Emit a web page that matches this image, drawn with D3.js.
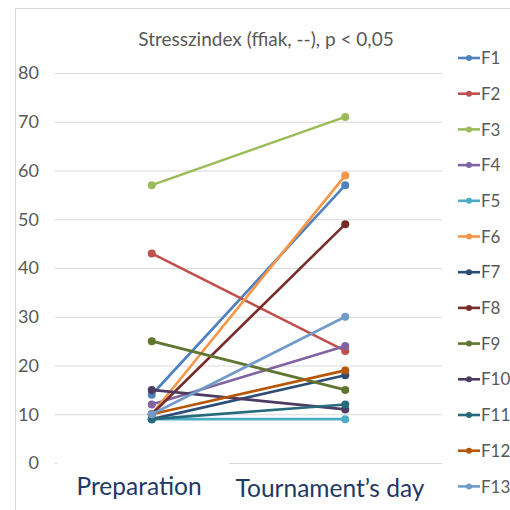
<!DOCTYPE html>
<html>
<head>
<meta charset="utf-8">
<script src="https://cdn.jsdelivr.net/npm/d3@7"></script>
<style>
  html, body { margin: 0; padding: 0; background: #fff; }
  svg { display: block; font-family: Lato, "Open Sans", sans-serif; }
</style>
</head>
<body>
<svg id="chart" width="510" height="510"></svg>
<script>
// Stress index per subject, before and on the tournament day
const categories = ["Preparation", "Tournament’s day"];
const seriesNames = ["F1", "F2", "F3", "F4", "F5", "F6", "F7", "F8", "F9", "F10", "F11", "F12", "F13"];
const preparation = [14, 43, 57, 12, 9, 10, 9, 10, 25, 15, 9, 10, 10];
const tournamentDay = [57, 23, 71, 24, 9, 59, 18, 49, 15, 11, 12, 19, 30];
const seriesColors = ["#4F81BD", "#C0504D", "#9BBB59", "#8064A2", "#4BACC6", "#F79646",
                      "#2C4D75", "#772C2A", "#5F7530", "#4D3B62", "#276A7C", "#B65708", "#729ACA"];
const yTicks = [0, 10, 20, 30, 40, 50, 60, 70, 80];
const title = "Stresszindex (ffiak, --), p < 0,05";

const svg = d3.select("#chart");

// outer chart frame
svg.append("rect")
  .attr("x", 15.5).attr("y", 8.5)
  .attr("width", 520).attr("height", 520)
  .attr("fill", "none").attr("stroke", "#d9d9d9").attr("stroke-width", 1);

const plot = { left: 55, right: 442, top: 73, bottom: 463 };

const x = d3.scalePoint().domain(categories).range([plot.left, plot.right]).padding(0.5);
const y = d3.scaleLinear().domain([0, 80]).range([plot.bottom, plot.top]);

// horizontal gridlines + value labels
const yAxis = d3.axisLeft(y).tickValues(yTicks).tickSize(-(plot.right - plot.left)).tickPadding(16);
const gy = svg.append("g").attr("transform", `translate(${plot.left},0)`).call(yAxis);
gy.select(".domain").remove();
gy.selectAll(".tick line").attr("stroke", "#d9d9d9").attr("stroke-width", 1.2);
gy.selectAll(".tick text")
  .attr("fill", "#595959")
  .style("font-size", "18px")
  .style("font-family", "Lato, sans-serif");

// title
svg.append("text")
  .attr("x", 266).attr("y", 46)
  .attr("text-anchor", "middle")
  .attr("fill", "#595959")
  .style("font-size", "19px")
  .text(title);

// one line per subject
const series = seriesNames.map((name, i) => ({
  name,
  color: seriesColors[i],
  values: [
    { cat: categories[0], v: preparation[i] },
    { cat: categories[1], v: tournamentDay[i] }
  ]
}));

const line = d3.line().x(d => x(d.cat)).y(d => y(d.v));

const gSeries = svg.append("g").selectAll("g").data(series).join("g");
gSeries.append("path")
  .attr("d", d => line(d.values))
  .attr("fill", "none")
  .attr("stroke", d => d.color)
  .attr("stroke-width", 2.6)
  .attr("stroke-linecap", "round");
gSeries.selectAll("circle")
  .data(d => d.values.map(v => ({ ...v, color: d.color })))
  .join("circle")
  .attr("cx", d => x(d.cat))
  .attr("cy", d => y(d.v))
  .attr("r", 4)
  .attr("fill", d => d.color);

// the first category label sits in a white box that hides part of the baseline
svg.append("rect")
  .attr("x", plot.left + 2).attr("y", 458)
  .attr("width", 229 - plot.left - 2).attr("height", 10)
  .attr("fill", "#fff");

// the label area is cut off at the bottom edge of its box
svg.append("clipPath").attr("id", "label-clip")
  .append("rect").attr("x", 0).attr("y", 0).attr("width", 510).attr("height", 502);

// category labels
const catLabelX = [139, 330];
categories.forEach((c, i) => {
  svg.append("text")
    .attr("x", catLabelX[i]).attr("y", i === 0 ? 495 : 497)
    .attr("text-anchor", "middle")
    .attr("fill", "#1F3864")
    .attr("clip-path", i === 1 ? "url(#label-clip)" : null)
    .style("font-size", "24.5px")
    .text(c);
});

// legend
const legend = svg.append("g");
const legendTop = 58, legendStep = 35.7;
series.forEach((s, i) => {
  const yy = legendTop + i * legendStep;
  legend.append("line")
    .attr("x1", 458).attr("x2", 480).attr("y1", yy).attr("y2", yy)
    .attr("stroke", s.color).attr("stroke-width", 2.6);
  legend.append("circle").attr("cx", 469).attr("cy", yy).attr("r", 3).attr("fill", s.color);
  legend.append("text")
    .attr("x", 481).attr("y", yy).attr("dy", "0.36em")
    .attr("fill", "#595959")
    .style("font-size", "17px")
    .text(s.name);
});
</script>
</body>
</html>
